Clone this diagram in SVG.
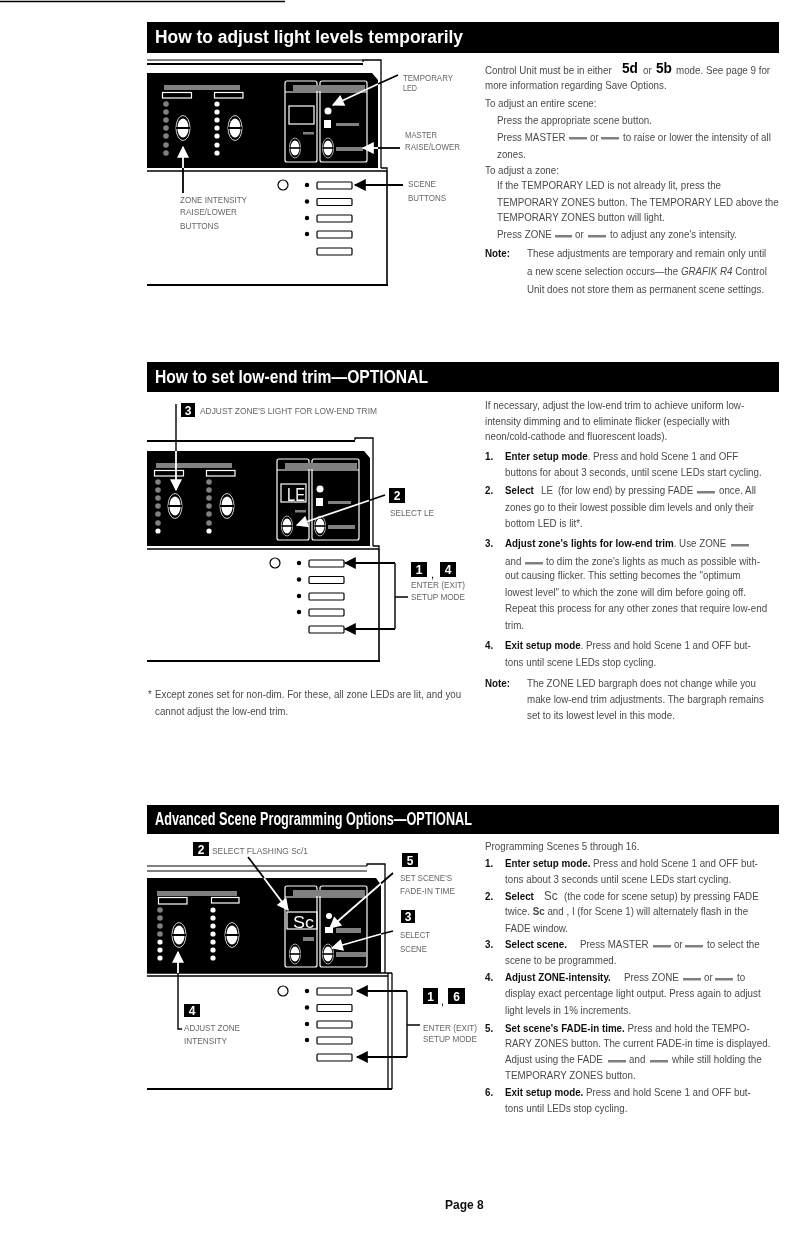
<svg xmlns="http://www.w3.org/2000/svg" width="792" height="1243" viewBox="0 0 792 1243">
<style>
text{font-family:"Liberation Sans",Arial,sans-serif;fill:#4a4a4a}
.t{font-size:11px;transform-box:fill-box;transform-origin:0 0;transform:scaleX(.89)}
.b{font-weight:700;fill:#111}
.l{font-size:9.5px;fill:#666}
.h{font-size:18px;font-weight:700;fill:#fff}
.n{font-size:12px;font-weight:700;fill:#fff;text-anchor:middle}
.ic{font-size:15px;font-weight:700;fill:#000}
.w{stroke:#fff;fill:none;stroke-width:1.2}
.k{stroke:#000;fill:none;stroke-width:1.3}
.g{fill:#808080}
.wl{stroke:#fff;stroke-width:1.8;fill:none}
.bl{stroke:#000;stroke-width:1.8;fill:none}
.br{stroke:#000;stroke-width:1.4;fill:none}
</style>
<defs>
<filter id="soft" x="0" y="0" width="100%" height="100%"><feGaussianBlur stdDeviation="0.35"/></filter>
<clipPath id="c2"><rect x="147" y="420" width="300" height="250"/></clipPath>
<marker id="aw" viewBox="0 0 10 10" refX="9" refY="5" markerWidth="14" markerHeight="12" markerUnits="userSpaceOnUse" orient="auto"><path d="M10 5L0 0V10Z" fill="#fff"/></marker>
<marker id="ak" viewBox="0 0 10 10" refX="9" refY="5" markerWidth="14" markerHeight="12" markerUnits="userSpaceOnUse" orient="auto"><path d="M10 5L0 0V10Z" fill="#000"/></marker>
<g id="rk"><ellipse rx="7" ry="12.5" fill="#000" stroke="#fff" stroke-width=".8"/><ellipse rx="5.6" ry="9.5" fill="#fff"/><rect x="-7" y="-1" width="14" height="2" fill="#000"/></g>
<circle id="wd" r="2.6" fill="#fff"/>
<circle id="gd" r="2.8" fill="#808080"/>
<g id="mods"><rect class="w" x="285" y="81" width="32" height="81" rx="2"/><rect class="w" x="320" y="81" width="47" height="81" rx="2"/><path class="w" d="M285 92H367"/><rect class="g" x="293" y="85" width="72" height="6"/></g>
<g id="sb"><circle cx="283" cy="185" r="5" fill="#fff" stroke="#000" stroke-width="1.2"/>
<g fill="#000"><circle cx="307" cy="185" r="2.200"/><circle cx="307" cy="201.500" r="2.200"/><circle cx="307" cy="218" r="2.200"/><circle cx="307" cy="234" r="2.200"/></g>
<g fill="#fff" stroke="#000" stroke-width="1.2"><rect x="317" y="182" width="35" height="7" rx="1"/><rect x="317" y="198.500" width="35" height="7" rx="1"/><rect x="317" y="215" width="35" height="7" rx="1"/><rect x="317" y="231" width="35" height="7" rx="1"/><rect x="317" y="248" width="35" height="7" rx="1"/></g></g>
<g id="shell"><path fill="#000" d="M147 73H372L378 80V168H147Z"/><path class="k" d="M363 62V60H381V168"/><path class="k" d="M147 171H387V168H381"/></g>
</defs>
<g filter="url(#soft)">
<rect width="792" height="1243" fill="#fff"/>
<path d="M0 1.500H285" stroke="#000" stroke-width="1.500"/>

<g id="section-1">
<rect x="147" y="22" width="632" height="31" fill="#000"/>
<text class="h" x="155" y="43" textLength="308" lengthAdjust="spacingAndGlyphs">How to adjust light levels temporarily</text>
</g>
<g id="section-2">
<rect x="147" y="362" width="632" height="30" fill="#000"/>
<text class="h" x="155" y="383" textLength="273" lengthAdjust="spacingAndGlyphs">How to set low-end trim—OPTIONAL</text>
</g>
<g id="section-3">
<rect x="147" y="805" width="632" height="29" fill="#000"/>
<text class="h" x="155" y="825" textLength="317" lengthAdjust="spacingAndGlyphs">Advanced Scene Programming Options—OPTIONAL</text>
</g>

<g id="panel-1">
<use href="#shell"/>
<path d="M147 60H363" stroke="#000" stroke-width="1"/><path d="M147 64H363" stroke="#000" stroke-width="2.200"/>
<path d="M387 171V285" stroke="#000" stroke-width="1.600"/><path d="M147 285H388" stroke="#000" stroke-width="2.200"/>
<rect class="g" x="164" y="85" width="76" height="5"/>
<rect class="w" x="162.500" y="92.500" width="29" height="5.500"/><rect class="w" x="214.500" y="92.500" width="28.500" height="5.500"/>
<use href="#gd" x="166" y="104"/><use href="#gd" x="166" y="112"/><use href="#gd" x="166" y="120"/><use href="#gd" x="166" y="128"/><use href="#gd" x="166" y="136"/><use href="#gd" x="166" y="145"/><use href="#gd" x="166" y="153"/>
<use href="#wd" x="217" y="104"/><use href="#wd" x="217" y="112"/><use href="#wd" x="217" y="120"/><use href="#wd" x="217" y="128"/><use href="#wd" x="217" y="136"/><use href="#wd" x="217" y="145"/><use href="#wd" x="217" y="153"/>
<use href="#rk" x="183" y="128"/><use href="#rk" x="235" y="128"/>
<use href="#mods"/>
<rect class="w" x="289" y="106" width="25" height="18"/><rect class="g" x="303" y="132" width="11" height="2.500"/>
<use href="#rk" transform="translate(295 148) scale(.8)"/><use href="#rk" transform="translate(328 148) scale(.8)"/>
<circle cx="328" cy="111" r="3.500" fill="#fff"/><rect x="324" y="120" width="7" height="8" fill="#fff"/>
<rect class="g" x="336" y="123" width="23" height="3"/><rect class="g" x="336" y="147" width="27" height="4"/>
<use href="#sb"/>
</g>

<g id="panel-2" clip-path="url(#c2)"><g transform="translate(-8 378)">
<use href="#shell"/>
<path d="M147 63H363" stroke="#000" stroke-width="2.200"/>
<path d="M387 171V283" stroke="#000" stroke-width="1.600"/><path d="M147 283H388" stroke="#000" stroke-width="2"/>
<rect class="g" x="164" y="85" width="76" height="5"/>
<rect class="w" x="162.500" y="92.500" width="29" height="5.500"/><rect class="w" x="214.500" y="92.500" width="28.500" height="5.500"/>
<use href="#gd" x="166" y="104"/><use href="#gd" x="166" y="112"/><use href="#gd" x="166" y="120"/><use href="#gd" x="166" y="128"/><use href="#gd" x="166" y="136"/><use href="#gd" x="166" y="145"/><use href="#wd" x="166" y="153"/>
<use href="#gd" x="217" y="104"/><use href="#gd" x="217" y="112"/><use href="#gd" x="217" y="120"/><use href="#gd" x="217" y="128"/><use href="#gd" x="217" y="136"/><use href="#gd" x="217" y="145"/><use href="#wd" x="217" y="153"/>
<use href="#rk" x="183" y="128"/><use href="#rk" x="235" y="128"/>
<use href="#mods"/>
<rect class="w" x="289" y="106" width="25" height="18"/><rect class="g" x="303" y="132" width="11" height="2.500"/>
<text x="295" y="123" textLength="18" lengthAdjust="spacingAndGlyphs" style="font-size:19px;fill:#fff">LE</text>
<use href="#rk" transform="translate(295 148) scale(.8)"/><use href="#rk" transform="translate(328 148) scale(.8)"/>
<circle cx="328" cy="111" r="3.500" fill="#fff"/><rect x="324" y="120" width="7" height="8" fill="#fff"/>
<rect class="g" x="336" y="123" width="23" height="3"/><rect class="g" x="336" y="147" width="27" height="4"/>
<use href="#sb"/>
</g></g>

<g id="panel-3">
<g transform="translate(0 805)">
<path fill="#000" d="M147 73H376L381 80V168H147Z"/>
<path class="k" d="M367 61V59H385V168"/>
<path d="M147 61H367M147 66H367" stroke="#000" stroke-width="1.200"/>
<path class="k" d="M147 168H392M147 171H388M388 168V284M392 168V284"/>
<path d="M147 284H392" stroke="#000" stroke-width="2"/>
<rect class="g" x="157" y="86" width="80" height="5"/>
<rect class="w" x="158.500" y="92.500" width="28.500" height="6.500"/><rect class="w" x="211.500" y="92.500" width="27.500" height="5.500"/>
<use href="#gd" x="160" y="105"/><use href="#gd" x="160" y="113"/><use href="#gd" x="160" y="121"/><use href="#gd" x="160" y="129"/><use href="#wd" x="160" y="137"/><use href="#wd" x="160" y="145"/><use href="#wd" x="160" y="153"/>
<use href="#wd" x="213" y="105"/><use href="#wd" x="213" y="113"/><use href="#wd" x="213" y="121"/><use href="#wd" x="213" y="129"/><use href="#wd" x="213" y="137"/><use href="#wd" x="213" y="145"/><use href="#wd" x="213" y="153"/>
<use href="#rk" x="179" y="130"/><use href="#rk" x="232" y="130"/>
<use href="#mods"/>
<rect class="w" x="287" y="107" width="30" height="17"/><rect class="g" x="303" y="132" width="11" height="4"/>
<text x="293" y="123" textLength="21" lengthAdjust="spacingAndGlyphs" style="font-size:17px;fill:#fff">Sc</text>
<use href="#rk" transform="translate(295 149) scale(.8)"/><use href="#rk" transform="translate(328 149) scale(.8)"/>
<circle cx="329" cy="111" r="3" fill="#fff"/><rect x="325" y="122" width="8" height="6" fill="#fff"/>
<rect class="g" x="336" y="123" width="25" height="5"/><rect class="g" x="336" y="147" width="30" height="5"/>
</g>
<use href="#sb" transform="translate(0 806)"/>
</g>

<g id="connectors">
<path class="bl" d="M398 75L378 84"/><path class="wl" d="M378 84L333 105" marker-end="url(#aw)"/>
<path class="bl" d="M400 148H378"/><path class="wl" d="M378 148H363" marker-end="url(#aw)"/>
<path class="bl" d="M403 185H355" marker-end="url(#ak)"/>
<path class="bl" d="M183 193V168"/><path class="wl" d="M183 168V147" marker-end="url(#aw)"/>

<path class="br" d="M176 404V451"/><path class="wl" d="M176 451V490" marker-end="url(#aw)"/>
<path class="bl" d="M385 495L369 500.500"/><path class="wl" d="M369 500.500L297 525" marker-end="url(#aw)"/>
<path class="br" d="M395 563V629M395 597H408"/>
<path class="bl" d="M395 563H345" marker-end="url(#ak)"/><path class="bl" d="M395 629H345" marker-end="url(#ak)"/>

<path class="bl" d="M248 857L264 878"/><path class="wl" d="M264 878L288 910" marker-end="url(#aw)"/>
<path class="bl" d="M393 873L381 883.500"/><path class="wl" d="M381 883.500L330 928" marker-end="url(#aw)"/>
<path class="bl" d="M393 931L381 934"/><path class="wl" d="M381 934L332 948" marker-end="url(#aw)"/>
<path class="br" d="M182 1029H178V973"/><path class="wl" d="M178 973V952" marker-end="url(#aw)"/>
<path class="br" d="M407 991V1057M407 1025H420"/>
<path class="bl" d="M407 991H357" marker-end="url(#ak)"/><path class="bl" d="M407 1057H357" marker-end="url(#ak)"/>
</g>

<g id="labels-1">
<text class="l" x="403" y="81" textLength="50" lengthAdjust="spacingAndGlyphs">TEMPORARY</text>
<text class="l" x="403" y="91" textLength="14" lengthAdjust="spacingAndGlyphs">LED</text>
<text class="l" x="405" y="138" textLength="32" lengthAdjust="spacingAndGlyphs">MASTER</text>
<text class="l" x="405" y="150" textLength="55" lengthAdjust="spacingAndGlyphs">RAISE/LOWER</text>
<text class="l" x="408" y="187" textLength="28" lengthAdjust="spacingAndGlyphs">SCENE</text>
<text class="l" x="408" y="201" textLength="38" lengthAdjust="spacingAndGlyphs">BUTTONS</text>
<text class="l" x="180" y="203" textLength="67" lengthAdjust="spacingAndGlyphs">ZONE INTENSITY</text>
<text class="l" x="180" y="215" textLength="57" lengthAdjust="spacingAndGlyphs">RAISE/LOWER</text>
<text class="l" x="180" y="229" textLength="39" lengthAdjust="spacingAndGlyphs">BUTTONS</text>
</g>
<g id="labels-2">
<rect x="181" y="403" width="14" height="14" fill="#000"/><text class="n" x="188" y="414.500">3</text>
<text class="l" x="200" y="413.500" textLength="177" lengthAdjust="spacingAndGlyphs">ADJUST ZONE'S LIGHT FOR LOW-END TRIM</text>
<rect x="389" y="488" width="16" height="15" fill="#000"/><text class="n" x="397" y="500">2</text>
<text class="l" x="390" y="515.500" textLength="44" lengthAdjust="spacingAndGlyphs">SELECT LE</text>
<rect x="411" y="562" width="16" height="15" fill="#000"/><text class="n" x="419" y="574">1</text>
<text class="l" x="431" y="578" style="font-size:11px;fill:#000">,</text>
<rect x="440" y="562" width="16" height="15" fill="#000"/><text class="n" x="448" y="574">4</text>
<text class="l" x="411" y="587.500" textLength="54" lengthAdjust="spacingAndGlyphs">ENTER (EXIT)</text>
<text class="l" x="411" y="599.500" textLength="54" lengthAdjust="spacingAndGlyphs">SETUP MODE</text>
</g>
<g id="labels-3">
<rect x="193" y="842" width="16" height="14" fill="#000"/><text class="n" x="201" y="853.500">2</text>
<text class="l" x="212" y="853.500" textLength="96" lengthAdjust="spacingAndGlyphs">SELECT FLASHING Sc/1</text>
<rect x="402" y="853" width="16" height="14" fill="#000"/><text class="n" x="410" y="864.500">5</text>
<text class="l" x="400" y="880.500" textLength="52" lengthAdjust="spacingAndGlyphs">SET SCENE'S</text>
<text class="l" x="400" y="893.500" textLength="55" lengthAdjust="spacingAndGlyphs">FADE-IN TIME</text>
<rect x="401" y="910" width="14" height="13" fill="#000"/><text class="n" x="408" y="921">3</text>
<text class="l" x="400" y="937.500" textLength="30" lengthAdjust="spacingAndGlyphs">SELECT</text>
<text class="l" x="400" y="951.500" textLength="27" lengthAdjust="spacingAndGlyphs">SCENE</text>
<rect x="184" y="1004" width="16" height="13" fill="#000"/><text class="n" x="192" y="1015">4</text>
<text class="l" x="184" y="1030.500" textLength="56" lengthAdjust="spacingAndGlyphs">ADJUST ZONE</text>
<text class="l" x="184" y="1043.500" textLength="43" lengthAdjust="spacingAndGlyphs">INTENSITY</text>
<rect x="423" y="988" width="15" height="16" fill="#000"/><text class="n" x="430.500" y="1000.500">1</text>
<text class="l" x="441" y="1005" style="font-size:11px;fill:#000">,</text>
<rect x="448" y="988" width="17" height="16" fill="#000"/><text class="n" x="456.500" y="1000.500">6</text>
<text class="l" x="423" y="1030.500" textLength="54" lengthAdjust="spacingAndGlyphs">ENTER (EXIT)</text>
<text class="l" x="423" y="1041.500" textLength="54" lengthAdjust="spacingAndGlyphs">SETUP MODE</text>
</g>

<g id="text-1">
<text class="t" x="485" y="74">Control Unit must be in either</text><text class="ic" x="622" y="73" textLength="16" lengthAdjust="spacingAndGlyphs">5d</text><text class="t" x="643" y="74">or</text><text class="ic" x="656" y="73" textLength="16" lengthAdjust="spacingAndGlyphs">5b</text><text class="t" x="676" y="74">mode. See page 9 for</text>
<text class="t" x="485" y="89">more information regarding Save Options.</text>
<text class="t" x="485" y="107">To adjust an entire scene:</text>
<text class="t" x="497" y="124">Press the appropriate scene button.</text>
<text class="t" x="497" y="141">Press MASTER</text><rect class="g" x="569" y="137" width="18" height="2.500"/><text class="t" x="590" y="141">or</text><rect class="g" x="601" y="137" width="18" height="2.500"/><text class="t" x="623" y="141">to raise or lower the intensity of all</text>
<text class="t" x="497" y="158">zones.</text>
<text class="t" x="485" y="174">To adjust a zone:</text>
<text class="t" x="497" y="189">If the TEMPORARY LED is not already lit, press the</text>
<text class="t" x="497" y="206">TEMPORARY ZONES button. The TEMPORARY LED above the</text>
<text class="t" x="497" y="221">TEMPORARY ZONES button will light.</text>
<text class="t" x="497" y="238">Press ZONE</text><rect class="g" x="555" y="235" width="17" height="2.500"/><text class="t" x="575" y="238">or</text><rect class="g" x="588" y="235" width="18" height="2.500"/><text class="t" x="610" y="238">to adjust any zone's intensity.</text>
<text class="t b" x="485" y="257">Note:</text><text class="t" x="527" y="257">These adjustments are temporary and remain only until</text>
<text class="t" x="527" y="275">a new scene selection occurs—the <tspan font-style="italic">GRAFIK R4</tspan> Control</text>
<text class="t" x="527" y="293">Unit does not store them as permanent scene settings.</text>
</g>

<g id="text-2">
<text class="t" x="485" y="409">If necessary, adjust the low-end trim to achieve uniform low-</text>
<text class="t" x="485" y="425">intensity dimming and to eliminate flicker (especially with</text>
<text class="t" x="485" y="440">neon/cold-cathode and fluorescent loads).</text>
<text class="t b" x="485" y="460">1.</text><text class="t" x="505" y="460"><tspan class="b">Enter setup mode</tspan>. Press and hold Scene 1 and OFF</text>
<text class="t" x="505" y="476">buttons for about 3 seconds, until scene LEDs start cycling.</text>
<text class="t b" x="485" y="494">2.</text><text class="t b" x="505" y="494">Select</text><text class="t" x="541" y="494">LE</text><text class="t" x="558" y="494">(for low end) by pressing FADE</text><rect class="g" x="697" y="491" width="18" height="2.500"/><text class="t" x="719" y="494">once. All</text>
<text class="t" x="505" y="511">zones go to their lowest possible dim levels and only their</text>
<text class="t" x="505" y="527">bottom LED is lit*.</text>
<text class="t b" x="485" y="547">3.</text><text class="t" x="505" y="547"><tspan class="b">Adjust zone's lights for low-end trim</tspan>. Use ZONE</text><rect class="g" x="731" y="544" width="18" height="2.500"/>
<text class="t" x="505" y="565">and</text><rect class="g" x="525" y="562" width="18" height="2.500"/><text class="t" x="546" y="565">to dim the zone's lights as much as possible with-</text>
<text class="t" x="505" y="579">out causing flicker. This setting becomes the "optimum</text>
<text class="t" x="505" y="596">lowest level" to which the zone will dim before going off.</text>
<text class="t" x="505" y="612">Repeat this process for any other zones that require low-end</text>
<text class="t" x="505" y="629">trim.</text>
<text class="t b" x="485" y="649">4.</text><text class="t" x="505" y="649"><tspan class="b">Exit setup mode</tspan>. Press and hold Scene 1 and OFF but-</text>
<text class="t" x="505" y="666">tons until scene LEDs stop cycling.</text>
<text class="t b" x="485" y="687">Note:</text><text class="t" x="527" y="687">The ZONE LED bargraph does not change while you</text>
<text class="t" x="527" y="703">make low-end trim adjustments. The bargraph remains</text>
<text class="t" x="527" y="719">set to its lowest level in this mode.</text>
<text class="t" x="148" y="698">*</text><text class="t" x="155" y="698">Except zones set for non-dim. For these, all zone LEDs are lit, and you</text>
<text class="t" x="155" y="715">cannot adjust the low-end trim.</text>
</g>

<g id="text-3">
<text class="t" x="485" y="850">Programming Scenes 5 through 16.</text>
<text class="t b" x="485" y="867">1.</text><text class="t" x="505" y="867"><tspan class="b">Enter setup mode.</tspan> Press and hold Scene 1 and OFF but-</text>
<text class="t" x="505" y="883">tons about 3 seconds until scene LEDs start cycling.</text>
<text class="t b" x="485" y="900">2.</text><text class="t b" x="505" y="900">Select</text><text class="t" x="544" y="900" style="font-size:13px">Sc</text><text class="t" x="564" y="900">(the code for scene setup) by pressing FADE</text>
<text class="t" x="505" y="915">twice. <tspan style="font-weight:700">Sc</tspan> and , I (for Scene 1) will alternately flash in the</text>
<text class="t" x="505" y="932">FADE window.</text>
<text class="t b" x="485" y="948">3.</text><text class="t b" x="505" y="948">Select scene.</text><text class="t" x="580" y="948">Press MASTER</text><rect class="g" x="653" y="945" width="18" height="2.500"/><text class="t" x="674" y="948">or</text><rect class="g" x="685" y="945" width="18" height="2.500"/><text class="t" x="707" y="948">to select the</text>
<text class="t" x="505" y="964">scene to be programmed.</text>
<text class="t b" x="485" y="981">4.</text><text class="t b" x="505" y="981">Adjust ZONE-intensity.</text><text class="t" x="624" y="981">Press ZONE</text><rect class="g" x="683" y="978" width="18" height="2.500"/><text class="t" x="704" y="981">or</text><rect class="g" x="715" y="978" width="18" height="2.500"/><text class="t" x="737" y="981">to</text>
<text class="t" x="505" y="997">display exact percentage light output. Press again to adjust</text>
<text class="t" x="505" y="1014">light levels in 1% increments.</text>
<text class="t b" x="485" y="1032">5.</text><text class="t" x="505" y="1032"><tspan class="b">Set scene's FADE-in time.</tspan> Press and hold the TEMPO-</text>
<text class="t" x="505" y="1047">RARY ZONES button. The current FADE-in time is displayed.</text>
<text class="t" x="505" y="1063">Adjust using the FADE</text><rect class="g" x="608" y="1060" width="18" height="2.500"/><text class="t" x="629" y="1063">and</text><rect class="g" x="650" y="1060" width="18" height="2.500"/><text class="t" x="672" y="1063">while still holding the</text>
<text class="t" x="505" y="1079">TEMPORARY ZONES button.</text>
<text class="t b" x="485" y="1096">6.</text><text class="t" x="505" y="1096"><tspan class="b">Exit setup mode.</tspan> Press and hold Scene 1 and OFF but-</text>
<text class="t" x="505" y="1112">tons until LEDs stop cycling.</text>
</g>
<text class="b" style="font-size:12px" x="445" y="1209">Page 8</text>
</g>
</svg>
